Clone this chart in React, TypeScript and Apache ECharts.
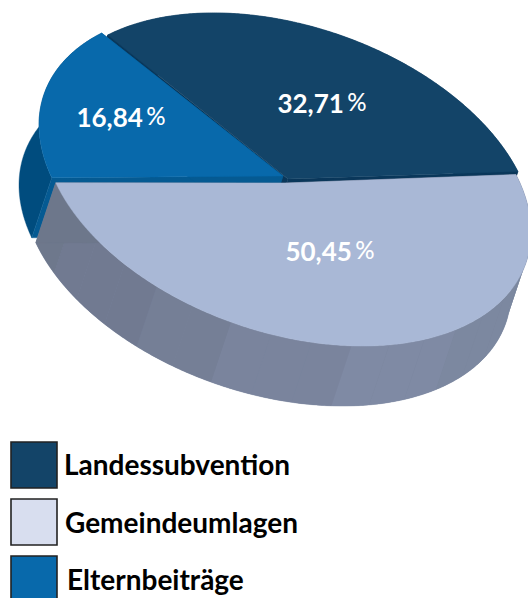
import React, { useEffect, useRef } from "react";
import * as echarts from "echarts";

const categories = ["Landessubvention", "Gemeindeumlagen", "Elternbeiträge"];
const shares = [32.71, 50.45, 16.84];

const topColors = ["#134468", "#a9b8d6", "#0869ab"];
const legendColors = ["#134468", "#d8deef", "#0869ab"];
const outerWallColors = ["#0b3a5e", "#7a859e", "#004c7e"];
const cutWallColors = ["#0a375a", "#6d778b", "#055a92"];
const zBase = [1, 20, 10];
const sliceApexes = [[288, 179], [285, 183], [283, 176]];
const rimCentres = [[289, 178], [287, 181], [283, 176]];
const labelCentres = [[322, 103], [330, 251], [121, 117]];
const legendTextX = [64, 65, 67];
const legendRowY = [464, 522, 579];
const legendBoxY = [442, 499, 556];

const START_DEG = -138;
const U = [244, 51];
const V = [0, 157];
const EXTRUDE = [-20, 60];
const FACET_DEG = 9.5;
const rimStops: [number, string][] = [
  [161, "#6e788c"], [135, "#717a91"], [116, "#757f96"], [98, "#7a849d"],
  [60, "#7f8aa4"], [33, "#7c88a0"], [-21, "#77829a"],
];

const rad = (d: number) => (d * Math.PI) / 180;
const rimPoint = (c: number[], deg: number) => [
  c[0] + U[0] * Math.cos(rad(deg)) + V[0] * Math.sin(rad(deg)),
  c[1] + U[1] * Math.cos(rad(deg)) + V[1] * Math.sin(rad(deg)),
];
const drop = (p: number[]) => [p[0] + EXTRUDE[0], p[1] + EXTRUDE[1]];

function rimShade(deg: number) {
  let best = rimStops[0];
  let d = Infinity;
  for (const s of rimStops) {
    const x = Math.abs(s[0] - deg);
    if (x < d) { d = x; best = s; }
  }
  return best[1];
}

function wallPoints(c: number[], a: number, b: number) {
  const pts: number[][] = [];
  for (let t = a; t <= b + 1e-6; t += 0.5) pts.push(rimPoint(c, t));
  pts.push(rimPoint(c, b));
  pts.push(drop(rimPoint(c, b)));
  for (let t = b; t >= a - 1e-6; t -= 0.5) pts.push(drop(rimPoint(c, t)));
  pts.push(drop(rimPoint(c, a)));
  return pts;
}

function renderSlice(params: any, api: any) {
  const i = params.dataIndex;
  const total = shares.reduce((x, y) => x + y, 0);
  const before = shares.slice(0, i).reduce((x, y) => x + y, 0);
  const value = api.value(0);
  const a0 = START_DEG + (before / total) * 360;
  const a1 = a0 + (value / total) * 360;
  const c = rimCentres[i];
  const apex = sliceApexes[i];
  const z = zBase[i];
  const children: any[] = [];

  const poly = (points: number[][], fill: string, z2: number, stroke = 0.4) =>
    children.push({
      type: "polygon",
      z2,
      shape: { points },
      style: stroke ? { fill, stroke: fill, lineWidth: stroke } : { fill },
      silent: true,
    });

  // outer wall: one solid base, then faint facets for the large slice
  poly(wallPoints(c, a0, a1), outerWallColors[i], z);
  if (i === 1) {
    for (let a = a0; a < a1 - 0.001; a += FACET_DEG) {
      const b = Math.min(a + FACET_DEG, a1);
      poly(wallPoints(c, a, b), rimShade((a + b) / 2), z + 1, 0);
    }
  }
  // cut walls
  for (const a of [a0, a1]) {
    const p = rimPoint(c, a);
    poly([apex, p, drop(p), drop(apex)], cutWallColors[i], z + 2);
  }
  // top
  const top: number[][] = [apex];
  for (let t = a0; t < a1; t += 0.5) top.push(rimPoint(c, t));
  top.push(rimPoint(c, a1));
  poly(top, topColors[i], z + 3);

  // label
  const text = value.toFixed(2).replace(".", ",");
  children.push({
    type: "text",
    z2: 40,
    silent: true,
    style: {
      x: labelCentres[i][0],
      y: labelCentres[i][1],
      align: "center",
      verticalAlign: "middle",
      text: `{a|${text}} {b|%}`,
      rich: {
        a: { font: "bold 26px Lato", fill: "#fff" },
        b: { font: "500 24px Lato", fill: "#fff", padding: [0, 0, 3, 0] },
      },
    },
  });
  return { type: "group", children };
}

export default function App() {
  const ref = useRef<HTMLDivElement>(null);
  useEffect(() => {
    const chart = echarts.init(ref.current!, null, { renderer: "svg" });
    chart.setOption({
      animation: false,
      series: [
        {
          type: "custom",
          coordinateSystem: "none",
          clip: false,
          renderItem: renderSlice,
          data: shares.map((v, i) => ({ name: categories[i], value: [v] })),
        },
      ],
      graphic: categories.flatMap((name, i) => [
        {
          type: "rect",
          shape: { x: 11, y: legendBoxY[i], width: 46, height: 46 },
          style: { fill: legendColors[i], stroke: "#222", lineWidth: 1.6 },
        },
        {
          type: "text",
          x: legendTextX[i],
          y: legendRowY[i],
          style: {
            text: name,
            font: "bold 28px Lato",
            fill: "#000",
            verticalAlign: "middle",
          },
        },
      ]),
    });
    return () => chart.dispose();
  }, []);
  return (
    <div
      ref={ref}
      style={{ position: "fixed", left: 0, top: 0, width: 528, height: 598, background: "#fff" }}
    />
  );
}
